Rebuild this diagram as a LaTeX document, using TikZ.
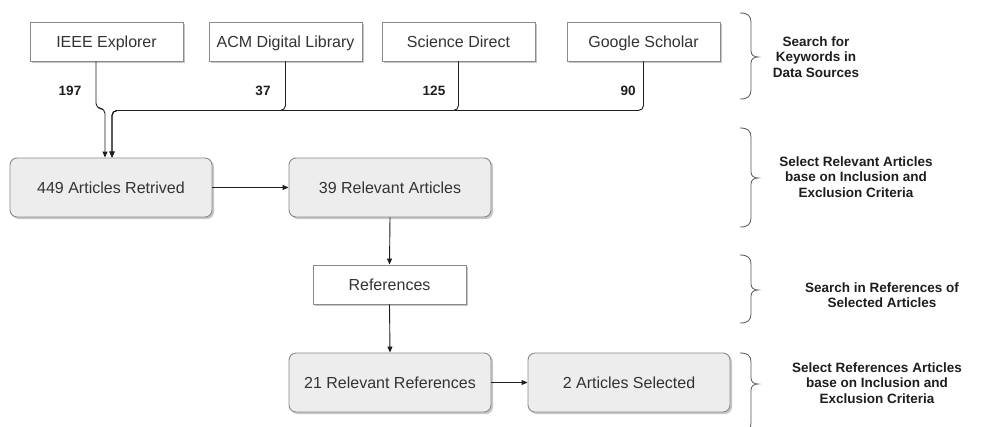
\documentclass[tikz,border=0pt]{standalone}
\usepackage{fontspec}
\setmainfont{Liberation Sans}
\usetikzlibrary{shadows,arrows.meta}
\definecolor{txt}{HTML}{333333}
\definecolor{bord}{HTML}{8A8A8A}
\definecolor{fillg}{HTML}{EDEDED}
\definecolor{lnc}{HTML}{1E1E1E}
\definecolor{brc}{HTML}{555555}
\newcommand\drawbrace[3]{\draw[bracec] (740,#1) .. controls (748,#1) and (751,{#1+3}) .. (751,{#1+9}) -- (751,{#3-6}) .. controls (751,{#3-2}) and (754,#3) .. (758,#3) .. controls (754,#3) and (751,{#3+2}) .. (751,{#3+6}) -- (751,{#2-9}) .. controls (751,{#2-3}) and (748,#2) .. (740,#2);}
\begin{document}
\begin{tikzpicture}[x=1pt,y=-1pt,
 srcbox/.style={draw=bord, fill=white, line width=0.9pt, minimum width=153pt, minimum height=39pt, inner sep=0pt,
   font=\fontsize{16}{19}\selectfont, text=txt, text height=11.5pt, text depth=-1.5pt,
   drop shadow={shadow xshift=2pt,shadow yshift=-2pt,fill=black,opacity=0.22}},
 roundbox/.style={draw=bord, fill=fillg, line width=0.9pt, rounded corners=7pt, minimum width=202pt, minimum height=59pt, inner sep=0pt,
   font=\fontsize{16}{19}\selectfont, text=txt, text height=11.5pt, text depth=-1.5pt,
   drop shadow={shadow xshift=2pt,shadow yshift=-2pt,fill=black,opacity=0.22}},
 conn/.style={draw=lnc, line width=0.9pt, -{Triangle[length=6pt,width=5pt]}, rounded corners=5pt},
 num/.style={font=\bfseries\fontsize{13.5}{16}\selectfont, text=lnc},
 note/.style={font=\bfseries\fontsize{13.5}{15.5}\selectfont, align=center, text=lnc},
 bracec/.style={draw=brc, line width=0.8pt}]
\fill[white] (0,0) rectangle (985,426);
\useasboundingbox (0,0) rectangle (985,426);
\clip (0,0) rectangle (985,426);

% sources
\node[srcbox] (ieee) at (106.5,41.5) {IEEE Explorer};
\node[srcbox] (acm) at (285.5,41.5) {ACM Digital Library};
\node[srcbox] (sd) at (458.5,41.5) {Science Direct};
\node[srcbox] (gs) at (643.5,41.5) {Google Scholar};

% process boxes
\node[roundbox] (art) at (111,187.5) {449 Articles Retrived};
\node[roundbox] (rel) at (390,187.5) {39 Relevant Articles};
\node[srcbox] (refs) at (389.5,284.5) {References};
\node[roundbox] (rr) at (390,382.5) {21 Relevant References};
\node[roundbox] (sel) at (629,382.5) {2 Articles Selected};

% connectors from sources
\draw[conn] ([xshift=-10.5pt]ieee.south) -- ++(0,47) -| ([xshift=-6pt]art.north);
\draw[conn] (acm.south) -- ++(0,49) -| ([xshift=1pt]art.north);
\draw[conn] (sd.south) -- ++(0,49) -| ([xshift=1pt]art.north);
\draw[conn] (gs.south) -- ++(0,49) -| ([xshift=1pt]art.north);

% counts
\node[num] (n197) at (70,91) {197};
\node[num] (n37) at (263,91) {37};
\node[num] (n125) at (434,91) {125};
\node[num] (n90) at (628,91) {90};

% flow
\draw[conn] (art.east) -- (rel.west);
\draw[conn] (rel.south) -- (refs.north);
\draw[conn] (refs.south) -- (rr.north);
\draw[conn] (rr.east) -- (sel.west);

% braces
\drawbrace{13}{99}{57}
\drawbrace{128}{227}{178}
\drawbrace{255}{323}{290}
\drawbrace{353}{432}{384}

% stage notes
\node[note] (s1) at (816,57) {Search for\\Keywords in\\Data Sources};
\node[note] (s2) at (856,177) {Select Relevant Articles\\base on Inclusion and\\Exclusion Criteria};
\node[note] (s3) at (882,295) {Search in References of\\Selected Articles};
\node[note] (s4) at (877,383) {Select References Articles\\base on Inclusion and\\Exclusion Criteria};
\end{tikzpicture}
\end{document}
